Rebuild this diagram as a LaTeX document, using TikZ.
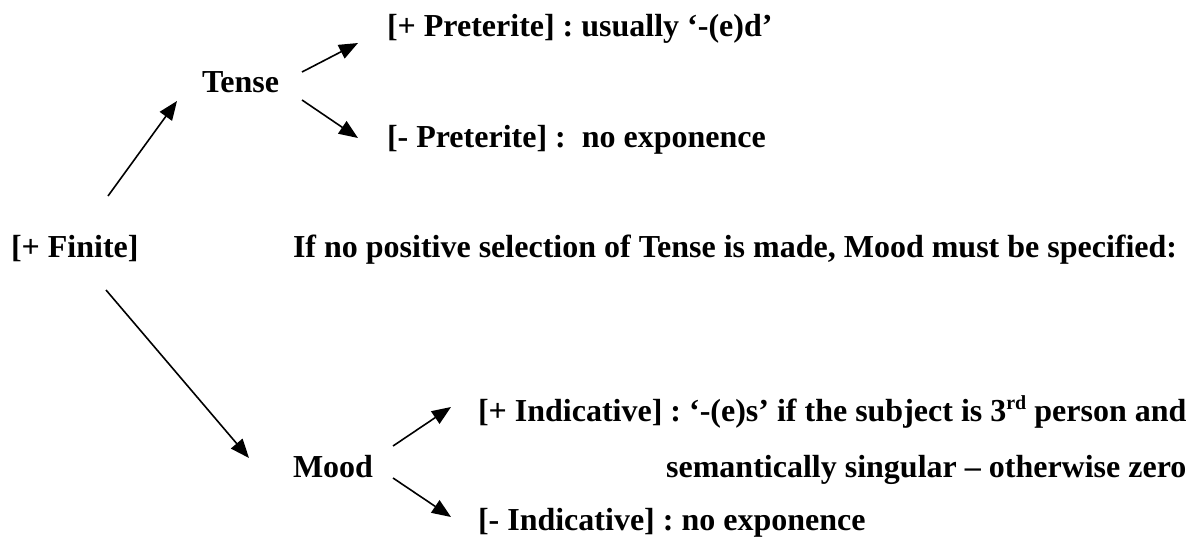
\documentclass[tikz,border=0pt]{standalone}
\usepackage{fontspec}
\setmainfont{Liberation Serif}
\usetikzlibrary{arrows.meta,calc}
\tikzset{
  lbl/.style={inner sep=0pt, outer sep=0pt, anchor=base west, font=\fontsize{32}{38}\selectfont\bfseries\frenchspacing},
  arr/.style={line width=1.6pt, -{Triangle[length=19pt,width=15pt]}}
}
\newcommand{\supr}[1]{\raisebox{12pt}{\fontsize{20}{20}\selectfont #1}}
\begin{document}
\begin{tikzpicture}[x=1pt,y=-1pt]
\useasboundingbox (0,0) rectangle (1200,538);
\node[lbl] (pp) at (387,36) {[+ Preterite] : usually ‘-(e)d’};
\node[lbl] (tense) at (202,92) {Tense};
\node[lbl] (mp) at (387,147) {[- Preterite] :\ \ no exponence};
\node[lbl] (fin) at (11,257) {[+ Finite]};
\node[lbl] (note) at (293,257) {If no positive selection of Tense is made, Mood must be specified:};
\node[lbl] (mood) at (293,477) {Mood};
\node[lbl] (pi) at (478,421) {[+ Indicative] : ‘-(e)s’ if the subject is 3\supr{rd} person and};
\coordinate (semrow) at (0,477);
\node[lbl, anchor=base east] (sem) at (pi.east |- semrow) {semantically singular – otherwise zero};
\node[lbl] (mi) at (478,530) {[- Indicative] : no exponence};
\draw[arr] ($(fin.base west)+(97,-61)$) -- ($(tense.base west)+(-25,9)$);
\draw[arr] ($(tense.base west)+(100,-20)$) -- ($(pp.base west)+(-29,7)$);
\draw[arr] ($(tense.base west)+(100,8)$) -- ($(mp.base west)+(-29,-9)$);
\draw[arr] ($(fin.base west)+(95,33)$) -- ($(mood.base west)+(-44,-19)$);
\draw[arr] ($(mood.base west)+(100,-31)$) -- ($(pi.base west)+(-27,-14)$);
\draw[arr] ($(mood.base west)+(100,1)$) -- ($(mi.base west)+(-27,-13)$);
\end{tikzpicture}
\end{document}
